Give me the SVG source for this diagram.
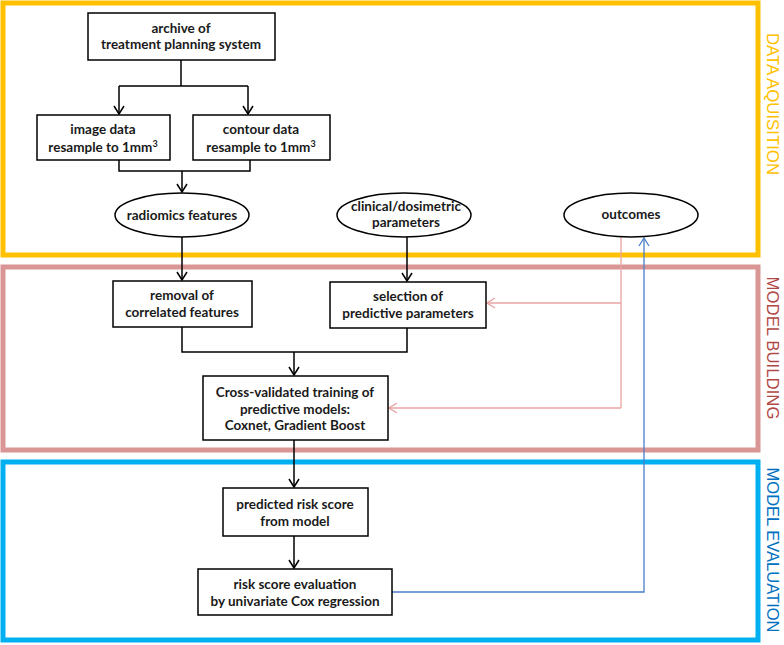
<svg xmlns="http://www.w3.org/2000/svg" width="784" height="645" viewBox="0 0 784 645">
<defs>
<style>
.frame{fill:none;stroke-width:5}
.box{fill:#fff;stroke:#000;stroke-width:1.5}
.t{font-family:Lato,"Liberation Sans",sans-serif;font-weight:bold;font-size:13.5px;fill:#1a1a1a;text-anchor:middle}
.side{font-family:"Liberation Sans",Arial,sans-serif;font-size:16px;text-anchor:middle}
.blk{fill:none;stroke:#000;stroke-width:1.5}
.pink{fill:none;stroke:#E8A3A3;stroke-width:1.3}
.blue{fill:none;stroke:#4A7FC9;stroke-width:1.3}
</style>
<marker id="ab" viewBox="0 0 10 12" refX="9" refY="6" markerWidth="10" markerHeight="12" markerUnits="userSpaceOnUse" orient="auto"><path d="M1,1 L9,6 L1,11" fill="none" stroke="#000" stroke-width="1.5"/></marker>
<marker id="ap" viewBox="0 0 10 12" refX="9" refY="6" markerWidth="10" markerHeight="12" markerUnits="userSpaceOnUse" orient="auto"><path d="M1,1 L9,6 L1,11" fill="none" stroke="#E8A3A3" stroke-width="1.3"/></marker>
<marker id="au" viewBox="0 0 10 12" refX="9" refY="6" markerWidth="10" markerHeight="12" markerUnits="userSpaceOnUse" orient="auto"><path d="M1,1 L9,6 L1,11" fill="none" stroke="#4A7FC9" stroke-width="1.3"/></marker>
</defs>
<rect width="784" height="645" fill="#fff"/>
<g id="frames">
<rect class="frame" x="3" y="3" width="755" height="252" stroke="#FFC000"/>
<rect class="frame" x="3" y="267" width="755" height="183" stroke="#DA9694"/>
<rect class="frame" x="3" y="462" width="755" height="178" stroke="#00B0F0"/>
<text class="side" fill="#FFC000" transform="translate(767,104) rotate(90)" textLength="142" lengthAdjust="spacingAndGlyphs">DATA AQUISITION</text>
<text class="side" fill="#B04846" transform="translate(767,348) rotate(90)" textLength="143" lengthAdjust="spacingAndGlyphs">MODEL BUILDING</text>
<text class="side" fill="#0070C0" transform="translate(767,550) rotate(90)" textLength="165" lengthAdjust="spacingAndGlyphs">MODEL EVALUATION</text>
</g>
<g id="connectors">
<path class="blk" d="M181,60 V86 M119,86 H248"/>
<path class="blk" d="M119,86 V114" marker-end="url(#ab)"/>
<path class="blk" d="M248,86 V114" marker-end="url(#ab)"/>
<path class="blk" d="M119,160 V171 H250 V160"/>
<path class="blk" d="M182,171 V192" marker-end="url(#ab)"/>
<path class="blk" d="M182,237 V280" marker-end="url(#ab)"/>
<path class="blk" d="M407,237 V281" marker-end="url(#ab)"/>
<path class="blk" d="M182,327 V352 H407 V328"/>
<path class="blk" d="M294,352 V375" marker-end="url(#ab)"/>
<path class="blk" d="M294,440 V487" marker-end="url(#ab)"/>
<path class="blk" d="M294,536 V568" marker-end="url(#ab)"/>
<path class="pink" d="M621,237 V408"/>
<path class="pink" d="M621,303 H487" marker-end="url(#ap)"/>
<path class="pink" d="M621,408 H389" marker-end="url(#ap)"/>
<path class="blue" d="M392,592 H644 V238" marker-end="url(#au)"/>
</g>
<g id="archive">
<rect class="box" x="88" y="13" width="187" height="47"/>
<text class="t" x="181" y="33">archive of</text>
<text class="t" x="181" y="49">treatment planning system</text>
</g>
<g id="image">
<rect class="box" x="37" y="115" width="133" height="45"/>
<text class="t" x="103" y="134">image data</text>
<text class="t" x="103" y="152">resample to 1mm<tspan font-size="9" dy="-5">3</tspan></text>
</g>
<g id="contour">
<rect class="box" x="193" y="115" width="137" height="45"/>
<text class="t" x="261" y="134">contour data</text>
<text class="t" x="261" y="152">resample to 1mm<tspan font-size="9" dy="-5">3</tspan></text>
</g>
<g id="radiomics">
<ellipse class="box" cx="182" cy="215" rx="67" ry="22"/>
<text class="t" x="182" y="220">radiomics features</text>
</g>
<g id="clinical">
<ellipse class="box" cx="404" cy="215" rx="67" ry="22"/>
<text class="t" x="406" y="211" font-size="12.5">clinical/dosimetric</text>
<text class="t" x="406" y="227" font-size="12.5">parameters</text>
</g>
<g id="outcomes">
<ellipse class="box" cx="631" cy="215" rx="67" ry="22"/>
<text class="t" x="631" y="219">outcomes</text>
</g>
<g id="removal">
<rect class="box" x="113" y="281" width="139" height="46"/>
<text class="t" x="182" y="300">removal of</text>
<text class="t" x="182" y="317">correlated features</text>
</g>
<g id="selection">
<rect class="box" x="330" y="282" width="156" height="46"/>
<text class="t" x="408" y="301">selection of</text>
<text class="t" x="408" y="318">predictive parameters</text>
</g>
<g id="training">
<rect class="box" x="203" y="376" width="185" height="64"/>
<text class="t" x="295" y="397">Cross-validated training of</text>
<text class="t" x="295" y="414">predictive models:</text>
<text class="t" x="295" y="430">Coxnet, Gradient Boost</text>
</g>
<g id="predicted">
<rect class="box" x="223" y="488" width="145" height="48"/>
<text class="t" x="295" y="509">predicted risk score</text>
<text class="t" x="295" y="526">from model</text>
</g>
<g id="evaluation">
<rect class="box" x="198" y="569" width="194" height="46"/>
<text class="t" x="295" y="589">risk score evaluation</text>
<text class="t" x="295" y="606">by univariate Cox regression</text>
</g>
</svg>
